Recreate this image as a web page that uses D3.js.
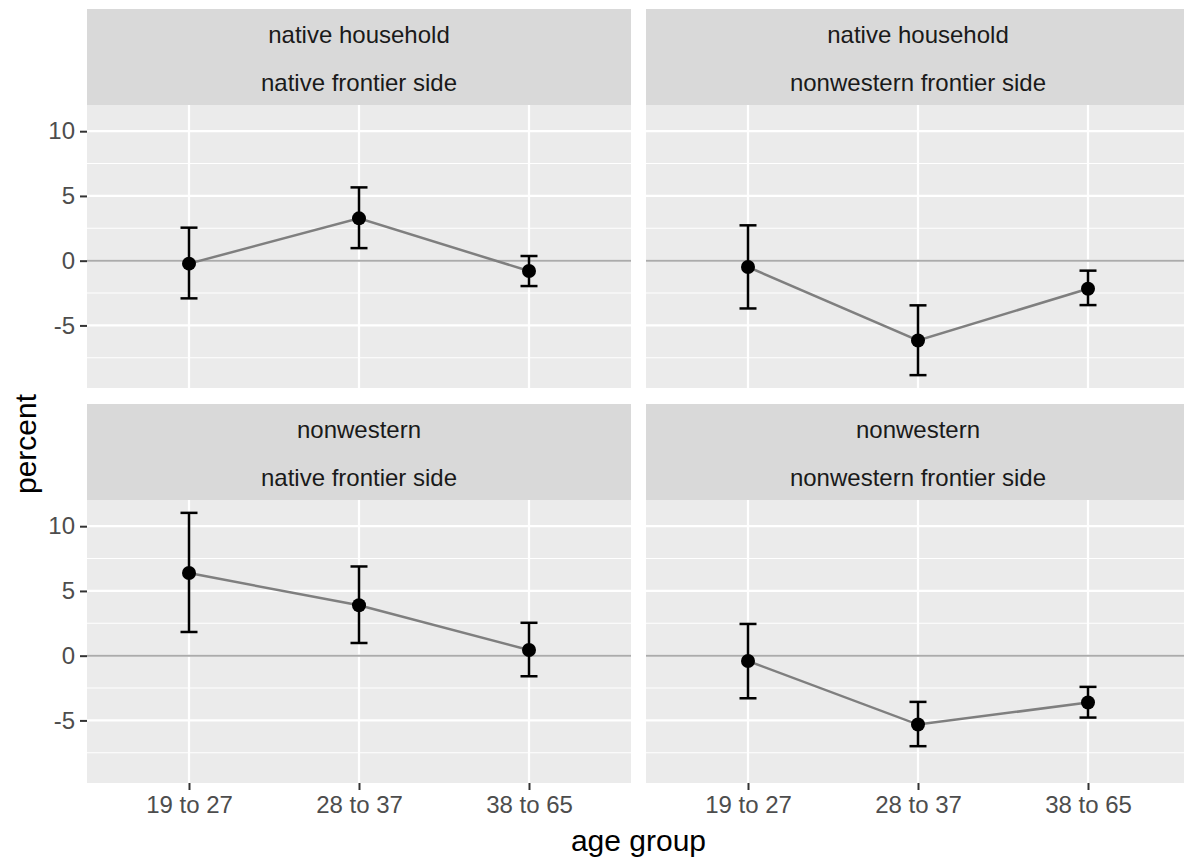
<!DOCTYPE html>
<html>
<head>
<meta charset="utf-8">
<script src="https://cdn.jsdelivr.net/npm/d3@7"></script>
<style>
  html, body { margin: 0; padding: 0; background: white; }
  svg { display: block; font-family: "Liberation Sans", Arial, sans-serif; }
</style>
</head>
<body>
<div id="container"></div>
<script>
// data
const ageGroups = ['19 to 27', '28 to 37', '38 to 65'];
const households = ['native household', 'nonwestern'];
const frontierSides = ['native frontier side', 'nonwestern frontier side'];
// one row per panel: [household, frontier side]
const panelKeys = [[0, 0], [0, 1], [1, 0], [1, 1]];
const estimates = [
  [-0.23, 3.27, -0.80],
  [-0.49, -6.16, -2.17],
  [6.38, 3.89, 0.44],
  [-0.41, -5.32, -3.62]
];
const lower = [
  [-2.91, 0.97, -1.96],
  [-3.69, -8.84, -3.43],
  [1.83, 0.98, -1.59],
  [-3.29, -6.99, -4.78]
];
const upper = [
  [2.55, 5.66, 0.36],
  [2.73, -3.45, -0.77],
  [11.03, 6.89, 2.54],
  [2.45, -3.57, -2.41]
];
const yTicks = [-5, 0, 5, 10];
const yMinor = [-7.5, -2.5, 2.5, 7.5];

let w = 1184,
    h = 860;

let viz = d3.select('#container')
    .append('svg')
      .attr('width', w)
      .attr('height', h)
      .style('background', 'white');

let left = 87,
    panelW = 544,
    hgap = 15,
    stripTop = 9,
    stripH = 96,
    panelH = 283,
    vgap = 16;

// shared y scale, ggplot style 5% expansion
let lo = d3.min(lower.flat()), hi = d3.max(upper.flat());
let pad = (hi - lo) * 0.05;
let y = d3.scaleLinear().domain([lo - pad, hi + pad]).range([panelH, 0]);
let x = d3.scalePoint().domain(ageGroups).range([0, panelW]).padding(0.6);

panelKeys.forEach(function(key, i) {
    let col = i % 2, row = Math.floor(i / 2);
    let px = left + col * (panelW + hgap);
    let sy = stripTop + row * (stripH + panelH + vgap);
    let py = sy + stripH;

    // strip
    let strip = viz.append('g').attr('transform', 'translate(' + px + ',' + sy + ')');
    strip.append('rect').attr('width', panelW).attr('height', stripH).attr('fill', '#d9d9d9');
    strip.append('text')
        .attr('x', panelW / 2).attr('y', 34)
        .attr('text-anchor', 'middle').attr('font-size', 24).attr('fill', '#1a1a1a')
        .text(households[key[0]]);
    strip.append('text')
        .attr('x', panelW / 2).attr('y', 82)
        .attr('text-anchor', 'middle').attr('font-size', 24).attr('fill', '#1a1a1a')
        .text(frontierSides[key[1]]);

    let g = viz.append('g').attr('transform', 'translate(' + px + ',' + py + ')');
    g.append('rect').attr('width', panelW).attr('height', panelH).attr('fill', '#ebebeb');

    g.selectAll('.minor').data(yMinor).enter().append('line')
        .attr('x1', 0).attr('x2', panelW)
        .attr('y1', d => y(d)).attr('y2', d => y(d))
        .attr('stroke', 'white').attr('stroke-width', 1.1);
    g.selectAll('.major').data(yTicks).enter().append('line')
        .attr('x1', 0).attr('x2', panelW)
        .attr('y1', d => y(d)).attr('y2', d => y(d))
        .attr('stroke', 'white').attr('stroke-width', 2.2);
    g.selectAll('.vmajor').data(ageGroups).enter().append('line')
        .attr('x1', d => x(d)).attr('x2', d => x(d))
        .attr('y1', 0).attr('y2', panelH)
        .attr('stroke', 'white').attr('stroke-width', 2.2);

    // zero reference line
    g.append('line')
        .attr('x1', 0).attr('x2', panelW)
        .attr('y1', y(0)).attr('y2', y(0))
        .attr('stroke', '#ababab').attr('stroke-width', 2);

    let pts = ageGroups.map((a, j) => ({ a: a, est: estimates[i][j], lo: lower[i][j], hi: upper[i][j] }));

    g.append('path')
        .datum(pts)
        .attr('fill', 'none')
        .attr('stroke', '#7f7f7f')
        .attr('stroke-width', 2.5)
        .attr('d', d3.line().x(d => x(d.a)).y(d => y(d.est)));

    let cap = x.step() * 0.05;
    let eb = g.selectAll('.eb').data(pts).enter().append('g')
        .attr('stroke', 'black').attr('stroke-width', 2.5);
    eb.append('line')
        .attr('x1', d => x(d.a)).attr('x2', d => x(d.a))
        .attr('y1', d => y(d.lo)).attr('y2', d => y(d.hi));
    eb.append('line')
        .attr('x1', d => x(d.a) - cap).attr('x2', d => x(d.a) + cap)
        .attr('y1', d => y(d.lo)).attr('y2', d => y(d.lo));
    eb.append('line')
        .attr('x1', d => x(d.a) - cap).attr('x2', d => x(d.a) + cap)
        .attr('y1', d => y(d.hi)).attr('y2', d => y(d.hi));

    g.selectAll('.pt').data(pts).enter().append('circle')
        .attr('cx', d => x(d.a)).attr('cy', d => y(d.est))
        .attr('r', 7).attr('fill', 'black');

    if (col === 0) {
        let ax = g.append('g')
            .call(d3.axisLeft(y).tickValues(yTicks).tickFormat(d => String(d)).tickSize(7).tickPadding(5));
        ax.select('.domain').remove();
        ax.selectAll('line').attr('stroke', '#333333').attr('stroke-width', 2);
        ax.selectAll('text').attr('font-size', 24).attr('fill', '#4d4d4d')
            .attr('font-family', '"Liberation Sans", Arial, sans-serif');
    }
    if (row === 1) {
        let ax = g.append('g')
            .attr('transform', 'translate(0,' + panelH + ')')
            .call(d3.axisBottom(x).tickSize(7).tickPadding(6));
        ax.select('.domain').remove();
        ax.selectAll('line').attr('stroke', '#333333').attr('stroke-width', 2);
        ax.selectAll('text').attr('font-size', 24).attr('fill', '#4d4d4d')
            .attr('font-family', '"Liberation Sans", Arial, sans-serif');
    }
});

// axis titles
viz.append('text')
    .attr('x', left + panelW + hgap / 2)
    .attr('y', 851)
    .attr('text-anchor', 'middle')
    .attr('font-size', 30)
    .attr('fill', 'black')
    .text('age group');

viz.append('text')
    .attr('transform', 'translate(36,' + 444 + ') rotate(-90)')
    .attr('text-anchor', 'middle')
    .attr('font-size', 30)
    .attr('fill', 'black')
    .text('percent');
</script>
</body>
</html>
